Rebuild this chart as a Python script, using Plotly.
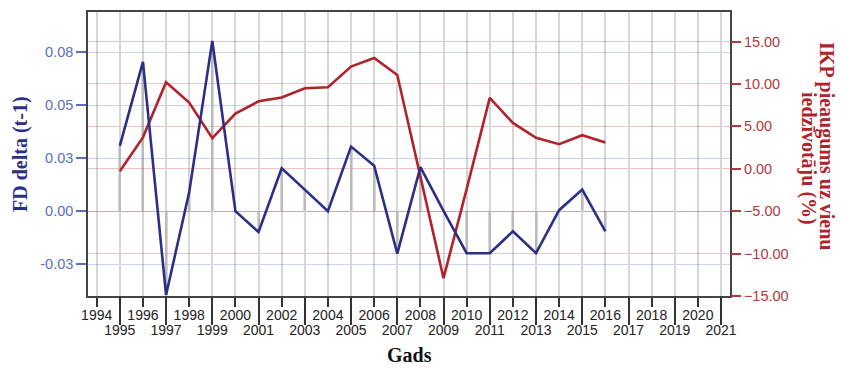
import plotly.graph_objects as go

# Annual series
years = list(range(1995, 2017))
fd_delta = [0.0308, 0.0705, -0.0395, 0.0089, 0.0803, 0.0000, -0.0098, 0.0203,
            0.0102, 0.0000, 0.0305, 0.0215, -0.0200, 0.0208, 0.0002, -0.0198,
            -0.0198, -0.0095, -0.0198, 0.0005, 0.0102, -0.0095]
gdp_growth = [-0.3, 3.7, 10.2, 7.8, 3.6, 6.5, 7.95, 8.4, 9.5, 9.6, 12.05, 13.05,
              11.05, -0.9, -12.9, -2.4, 8.35, 5.4, 3.65, 2.9, 3.95, 3.1]

# Axis ticks
even_years = list(range(1994, 2021, 2))
odd_years = list(range(1995, 2022, 2))
fd_ticks = [-0.025, 0.0, 0.025, 0.05, 0.075]
fd_ticktext = ["-0.03", "0.00", "0.03", "0.05", "0.08"]
gdp_ticks = [-15, -10, -5, 0, 5, 10, 15]

BLUE = "#2b2f86"
RED = "#b0232a"
TICK_BLUE = "#5b6fc0"
TICK_RED = "#b03a3a"
TITLE_FONT = "Liberation Serif"
LABEL_FONT = "Liberation Sans"

fig = go.Figure()

# thin drop lines from each FD value to zero
fig.add_trace(go.Bar(
    x=years, y=fd_delta, width=0.13,
    marker=dict(color="rgba(110,110,110,0.26)", line=dict(width=0)),
    hoverinfo="skip", showlegend=False, xaxis="x", yaxis="y",
))
# FD line sits on the odd-year axis (same range as the even-year axis)
fig.add_trace(go.Scatter(
    x=years, y=fd_delta, mode="lines", name="FD delta (t-1)",
    line=dict(color=BLUE, width=2.6), xaxis="x3", yaxis="y", showlegend=False,
))
fig.add_trace(go.Scatter(
    x=years, y=gdp_growth, mode="lines", name="IKP pieaugums",
    line=dict(color=RED, width=2.6), xaxis="x", yaxis="y2", showlegend=False,
))

xrange = [1993.624, 2021.39]
common_x = dict(
    range=xrange, ticks="outside", tickcolor="#333333", tickwidth=1.5,
    showgrid=True, gridcolor="#d6d6d6", gridwidth=1.6, zeroline=False,
    tickfont=dict(family=LABEL_FONT, size=14, color="#222222"),
)

fig.update_layout(
    width=841, height=368,
    margin=dict(l=88, r=111, t=10, b=72),
    paper_bgcolor="white", plot_bgcolor="white",
    bargap=0,
    xaxis=dict(
        **common_x, tickvals=even_years, ticklen=9, ticklabelstandoff=-4,
        showline=True, linecolor="#444444", linewidth=1.6, mirror=True,
    ),
    xaxis3=dict(
        **common_x, tickvals=odd_years, ticklen=28, ticklabelstandoff=-7,
        overlaying="x", anchor="y", side="bottom", showline=False,
    ),
    yaxis=dict(
        range=[-0.04, 0.094], tickvals=fd_ticks, ticktext=fd_ticktext,
        ticks="outside", ticklen=10, tickwidth=2, tickcolor=TICK_BLUE,
        tickfont=dict(family=LABEL_FONT, size=14.5, color=TICK_BLUE),
        showgrid=True, gridcolor="rgba(95,120,210,0.32)", gridwidth=1.2,
        zeroline=False,
        showline=True, linecolor="#444444", linewidth=1.6, mirror=True,
    ),
    yaxis2=dict(
        range=[-15, 18.48], tickvals=gdp_ticks, tickformat=".2f",
        overlaying="y", side="right", anchor="x",
        ticks="outside", ticklen=10, tickwidth=2, tickcolor=TICK_RED,
        tickfont=dict(family=LABEL_FONT, size=14.5, color=TICK_RED),
        showgrid=True, gridcolor="rgba(205,70,70,0.32)", gridwidth=1.2,
        zeroline=False, showline=False,
    ),
    annotations=[
        dict(text="<b>FD delta (t-1)</b>", xref="paper", yref="paper",
             x=-0.106, y=0.5, xanchor="center", yanchor="middle",
             textangle=-90, showarrow=False,
             font=dict(family=TITLE_FONT, size=20, color=BLUE)),
        dict(text="<b>IKP pieaugums uz vienu</b>", xref="paper", yref="paper",
             x=(827 - 88) / 642, y=(296 - 145) / 286, xanchor="center",
             yanchor="middle", textangle=90, showarrow=False,
             font=dict(family=TITLE_FONT, size=20, color=RED)),
        dict(text="<b>iedzīvotāju (%)</b>", xref="paper", yref="paper",
             x=(808 - 88) / 642, y=(296 - 158) / 286, xanchor="center",
             yanchor="middle", textangle=90, showarrow=False,
             font=dict(family=TITLE_FONT, size=20, color=RED)),
        dict(text="<b>Gads</b>", xref="paper", yref="paper",
             x=(409 - 88) / 642, y=(296 - 367) / 286, xanchor="center",
             yanchor="bottom", showarrow=False, borderpad=0,
             font=dict(family=TITLE_FONT, size=20, color="#111111")),
    ],
)

fig.write_html("out.html")
